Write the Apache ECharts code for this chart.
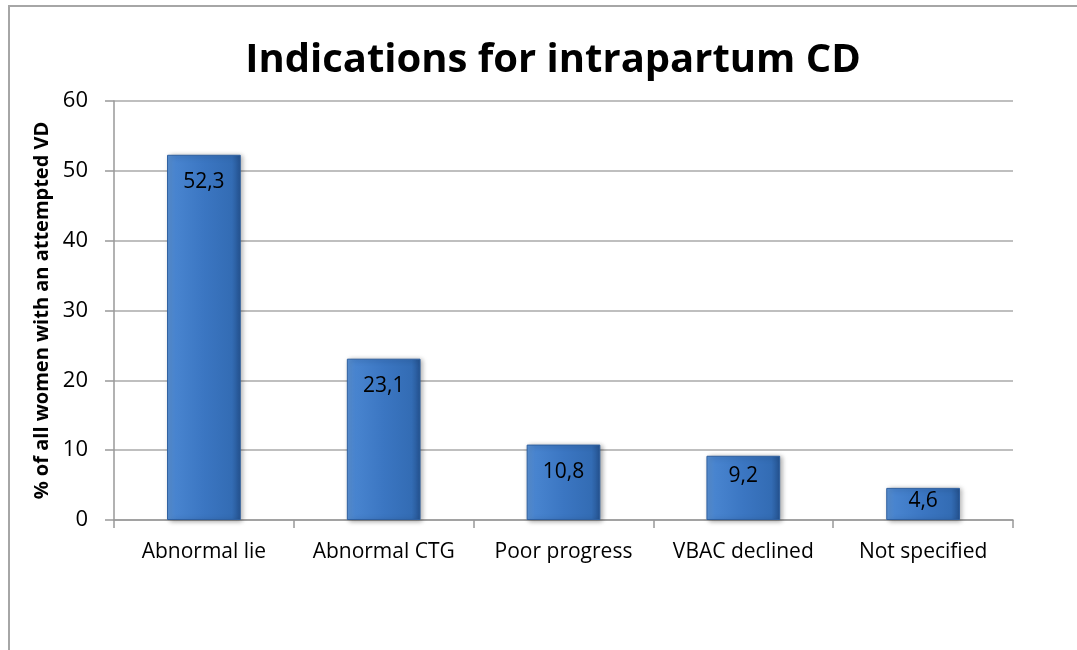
<!DOCTYPE html>
<html>
<head>
<meta charset="utf-8">
<script src="https://cdn.jsdelivr.net/npm/echarts@6/dist/echarts.min.js"></script>
<style>
  html, body { margin: 0; padding: 0; background: #fff; }
  #frame {
    position: absolute; left: 8px; top: 5px; width: 1200px; height: 800px;
    border: 2px solid #a6a6a6; box-sizing: border-box;
  }
  #chart { position: absolute; left: 0; top: 0; width: 1077px; height: 650px; }
</style>
</head>
<body>
<div id="frame"></div>
<div id="chart"></div>
<script>
const categories = ["Abnormal lie", "Abnormal CTG", "Poor progress", "VBAC declined", "Not specified"];
const values = [52.3, 23.1, 10.8, 9.2, 4.6];
const yTicks = [0, 10, 20, 30, 40, 50, 60];

const chart = echarts.init(document.getElementById("chart"));
const font = "'Open Sans', 'DejaVu Sans', sans-serif";

const barColor = new echarts.graphic.LinearGradient(0, 0, 1, 0, [
  { offset: 0, color: "#5b93d6" },
  { offset: 0.12, color: "#4884cf" },
  { offset: 0.5, color: "#3b76c2" },
  { offset: 0.88, color: "#336cb4" },
  { offset: 1, color: "#24528f" }
]);

// short bars get their label pulled up so it stays inside the bar
const barData = values.map(v => ({
  value: v,
  label: { distance: v < 6 ? 3 : (v < 10 ? 10 : 17) }
}));

const option = {
  animation: false,
  title: {
    text: "Indications for intrapartum CD",
    left: 548,
    top: 36,
    textAlign: "center",
    textStyle: { fontFamily: font, fontSize: 40, fontWeight: "bold", color: "#000" }
  },
  grid: { left: 114, right: 64, top: 101, bottom: 130, containLabel: false },
  xAxis: {
    type: "category",
    data: categories,
    axisLine: { lineStyle: { color: "#999", width: 1.5 } },
    axisTick: { show: true, length: 8, lineStyle: { color: "#999", width: 1.5 } },
    axisLabel: { fontFamily: font, fontSize: 21, color: "#000", margin: 22, interval: 0 }
  },
  yAxis: {
    type: "value",
    min: yTicks[0],
    max: yTicks[yTicks.length - 1],
    interval: 10,
    name: "% of all women with an attempted VD",
    nameLocation: "middle",
    nameGap: 62,
    nameTextStyle: { fontFamily: font, fontSize: 20, fontWeight: "bold", color: "#000" },
    axisLine: { show: true, lineStyle: { color: "#999", width: 1.5 } },
    axisTick: { show: true, length: 9, lineStyle: { color: "#999", width: 1.5 } },
    splitLine: { lineStyle: { color: "#aaa", width: 1.5 } },
    axisLabel: { fontFamily: font, fontSize: 22, color: "#000", margin: 26 }
  },
  series: [{
    type: "bar",
    data: barData,
    barWidth: "41%",
    itemStyle: {
      color: barColor,
      borderColor: "#2e5f9f",
      borderWidth: 1,
      shadowColor: "rgba(0,0,0,0.35)",
      shadowBlur: 5,
      shadowOffsetX: 2,
      shadowOffsetY: 1
    },
    label: {
      show: true,
      position: "insideTop",
      distance: 17,
      fontFamily: font,
      fontSize: 21,
      color: "#000",
      formatter: p => String(p.value).replace(".", ",")
    }
  }]
};

chart.setOption(option);
</script>
</body>
</html>
